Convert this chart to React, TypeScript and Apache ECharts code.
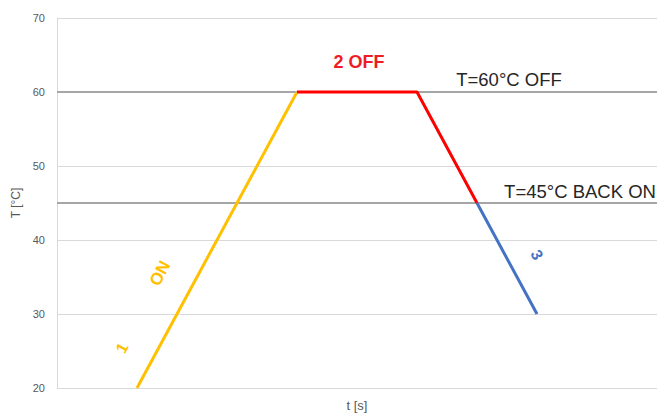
import React, { useEffect, useRef } from "react";
import * as echarts from "echarts";

const yTicks = [20, 30, 40, 50, 60, 70];
const phaseOn: [number, number][] = [[4, 20], [12, 60]];
const phaseOff: [number, number][] = [[12, 60], [18, 60], [21, 45]];
const phaseBackOn: [number, number][] = [[21, 45], [24, 30]];
const thresholds = [60, 45];
const thresholdLabels = ["T=60°C OFF", "T=45°C BACK ON"];

const FONT = "Liberation Sans, Arial, sans-serif";

export default function App() {
  const ref = useRef<HTMLDivElement>(null);
  useEffect(() => {
    if (!ref.current) return;
    const chart = echarts.init(ref.current, undefined, { renderer: "svg" });
    const lineSeries = (data: [number, number][], color: string, z: number) => ({
      type: "line",
      data,
      symbol: "none",
      z,
      lineStyle: { color, width: 3 },
    });
    const textMark = (value: string, coord: [number, number], color: string, size: number, bold: boolean, rotate = 0) => ({
      coord,
      value,
      symbolSize: 0,
      label: {
        show: true,
        position: "inside",
        formatter: value,
        color,
        fontSize: size,
        fontWeight: bold ? "bold" : "normal",
        fontFamily: FONT,
        rotate,
        align: "center",
        verticalAlign: "middle",
      },
    });
    chart.setOption({
      animation: false,
      grid: { left: 57, right: 7, top: 18, bottom: 27 },
      xAxis: {
        type: "value",
        min: 0,
        max: 30,
        axisLabel: { show: false },
        axisTick: { show: false },
        axisLine: { show: false },
        splitLine: { show: false },
        name: "t [s]",
        nameLocation: "middle",
        nameGap: 11,
        nameTextStyle: { color: "#595959", fontSize: 13, fontFamily: FONT },
      },
      yAxis: {
        type: "value",
        min: yTicks[0],
        max: yTicks[yTicks.length - 1],
        interval: 10,
        axisLine: { show: true, lineStyle: { color: "#d9d9d9", width: 1 } },
        axisTick: { show: false },
        splitLine: { show: true, lineStyle: { color: "#d9d9d9", width: 1 } },
        axisLabel: { color: "#595959", fontSize: 11, fontFamily: FONT, margin: 12 },
        name: "T [°C]",
        nameLocation: "middle",
        nameGap: 29,
        nameTextStyle: { color: "#595959", fontSize: 12, fontFamily: FONT },
      },
      series: [
        {
          type: "line",
          data: [],
          z: 1,
          markLine: {
            silent: true,
            z: 1,
            symbol: "none",
            label: { show: false },
            lineStyle: { color: "#a6a6a6", width: 2, type: "solid" },
            data: thresholds.map((t) => ({ yAxis: t })),
          },
          markPoint: {
            silent: true,
            z: 6,
            data: [
              textMark(thresholdLabels[0], [22.6, 61.7], "#262626", 18.5, false),
              textMark(thresholdLabels[1], [26.15, 46.6], "#262626", 18.5, false),
              textMark("2 OFF", [15.1, 64.1], "#ee1c25", 18, true),
              textMark("ON", [5.15, 35.5], "#ffc000", 17, true, 62),
              textMark("1", [3.25, 25.4], "#ffc000", 16, true, 62),
              textMark("3", [24, 38], "#4472c4", 16, true, -62),
            ],
          },
        },
        lineSeries(phaseOn, "#ffc000", 3),
        lineSeries(phaseOff, "#ff0000", 4),
        lineSeries(phaseBackOn, "#4472c4", 3),
      ],
    });
    return () => chart.dispose();
  }, []);
  return (
    <div
      ref={ref}
      style={{ position: "fixed", left: 0, top: 0, width: 664, height: 417, background: "#fff" }}
    />
  );
}
